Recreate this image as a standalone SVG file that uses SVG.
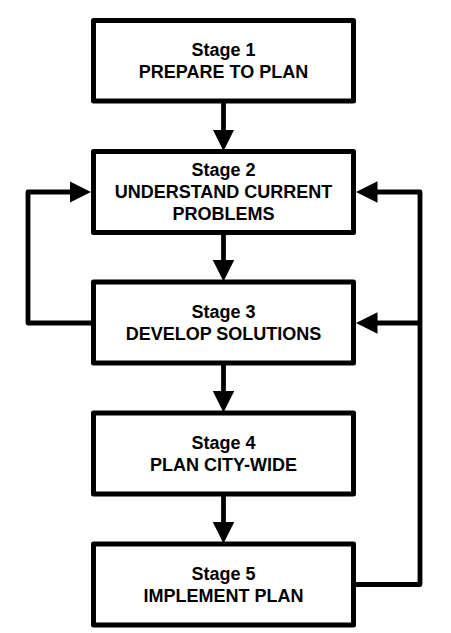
<svg xmlns="http://www.w3.org/2000/svg" width="451" height="633" viewBox="0 0 451 633">
<style>
.box{fill:#fff;stroke:#000;stroke-width:5;stroke-linejoin:round}
.lbl{font-family:"Liberation Sans",Arial,Helvetica,sans-serif;font-weight:bold;font-size:18px;fill:#000;text-anchor:middle}
.con{fill:none;stroke:#000;stroke-width:4.8;stroke-linejoin:round}
</style>
<defs>
<marker id="ah" markerUnits="userSpaceOnUse" markerWidth="23" markerHeight="22" refX="0.5" refY="10.75" orient="auto" viewBox="0 0 23 22">
<path d="M0,0 L21.5,10.75 L0,21.5 z" fill="#000"/>
</marker>
</defs>
<rect width="451" height="633" fill="#fff"/>
<g id="connectors">
<path class="con" d="M223.5,100.5 V130" marker-end="url(#ah)"/>
<path class="con" d="M223.5,232.5 V260.5" marker-end="url(#ah)"/>
<path class="con" d="M223.5,363 V391.5" marker-end="url(#ah)"/>
<path class="con" d="M223.5,494 V522.5" marker-end="url(#ah)"/>
<path class="con" d="M93.5,323 H28 V192 H70" marker-end="url(#ah)"/>
<path class="con" d="M353.5,584.5 H420 V192 H377" marker-end="url(#ah)"/>
<path class="con" d="M422,323 H377" marker-end="url(#ah)"/>
</g>
<g id="stage1">
<rect class="box" x="93.5" y="20.5" width="260" height="80.5"/>
<text class="lbl" x="223.5" y="56">Stage 1</text>
<text class="lbl" x="223.5" y="78">PREPARE TO PLAN</text>
</g>
<g id="stage2">
<rect class="box" x="93.5" y="151.5" width="260" height="81"/>
<text class="lbl" x="223.5" y="175.5">Stage 2</text>
<text class="lbl" x="223.5" y="197.5">UNDERSTAND CURRENT</text>
<text class="lbl" x="223.5" y="219.5">PROBLEMS</text>
</g>
<g id="stage3">
<rect class="box" x="93.5" y="282" width="260" height="81"/>
<text class="lbl" x="223.5" y="318">Stage 3</text>
<text class="lbl" x="223.5" y="340">DEVELOP SOLUTIONS</text>
</g>
<g id="stage4">
<rect class="box" x="93.5" y="413" width="260" height="81"/>
<text class="lbl" x="223.5" y="449">Stage 4</text>
<text class="lbl" x="223.5" y="471">PLAN CITY-WIDE</text>
</g>
<g id="stage5">
<rect class="box" x="93.5" y="544" width="260" height="81"/>
<text class="lbl" x="223.5" y="580">Stage 5</text>
<text class="lbl" x="223.5" y="602">IMPLEMENT PLAN</text>
</g>
</svg>
